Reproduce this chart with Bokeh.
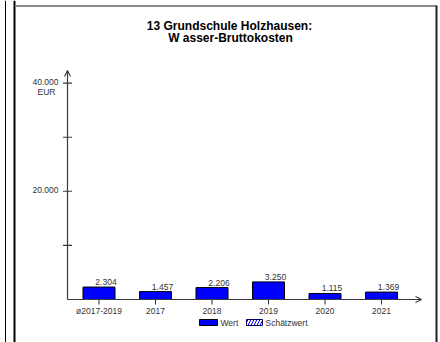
from bokeh.plotting import figure
from bokeh.models import Range1d, Arrow, OpenHead
from bokeh.core.properties import value
from bokeh.embed import file_html
from bokeh.resources import INLINE

# ---- data ----
categories = ["ø2017-2019", "2017", "2018", "2019", "2020", "2021"]
values = [2304, 1457, 2206, 3250, 1115, 1369]
y_ticks = [10000, 20000, 30000, 40000]
y_tick_labels = ["", "20.000", "", "40.000"]
title_lines = ["13 Grundschule Holzhausen:", "W asser-Bruttokosten"]
legend_labels = ["Wert", "Schätzwert"]

# ---- layout (page pixels) ----
W, H = 440, 342
CAT0_PX = 98.5        # centre of first category
PX_PER_CAT = 56.5
BASE_PX = 299.0       # y pixel of value 0
PX_PER_UNIT = 54.1 / 10000.0
AXIS_X_PX = 67.0
AXIS_TOP_PX = 70.0
XAXIS_END_PX = 421.0

def cx(px):  # page px -> category units
    return (px - CAT0_PX) / PX_PER_CAT

def vy(py):  # page px -> value units
    return (BASE_PX - py) / PX_PER_UNIT

FONT = value("Liberation Sans")
AX_COL = "#3a3a3a"

p = figure(width=W, height=H, x_range=Range1d(cx(0), cx(W)), y_range=Range1d(vy(H), vy(0)),
           min_border=0, x_axis_type=None, y_axis_type=None, outline_line_color=None,
           toolbar_location=None, output_backend="svg", background_fill_color="white",
           border_fill_color="white")
p.extra_x_ranges = {"px": Range1d(0, W)}
p.extra_y_ranges = {"px": Range1d(H, 0)}

# ---- outer frame lines ----
p.line([5, 5], [0, H], x_range_name="px", y_range_name="px", line_color="black", line_width=1)
p.line([14, 14], [0, H], x_range_name="px", y_range_name="px", line_color="black", line_width=2)
p.line([15, 436], [5.5, 5.5], x_range_name="px", y_range_name="px", line_color="#8a8a8a", line_width=2)
p.line([436, 436], [5, H], x_range_name="px", y_range_name="px", line_color="#222222", line_width=2)

# ---- bars ----
xs = list(range(len(categories)))
p.vbar(x=xs, top=values, bottom=0, width=32 / PX_PER_CAT, fill_color="#0000FF",
       line_color="black", line_width=1)

# value labels
val_text = [f"{v:,}".replace(",", ".") for v in values]
p.text(x=xs, y=values, text=val_text, x_offset=7, y_offset=-2, text_align="center",
       text_baseline="bottom", text_font=FONT, text_font_size="8.5px", text_color="#333333")

# ---- axes ----
ax = cx(AXIS_X_PX)
p.add_layout(Arrow(end=OpenHead(size=6, line_width=1.1, line_color=AX_COL),
                   x_start=ax, y_start=0, x_end=ax, y_end=vy(AXIS_TOP_PX),
                   line_color=AX_COL, line_width=1.2))
p.add_layout(Arrow(end=OpenHead(size=6, line_width=1.1, line_color=AX_COL),
                   x_start=ax, y_start=0, x_end=cx(XAXIS_END_PX), y_end=0,
                   line_color=AX_COL, line_width=1.2))

# y ticks
p.scatter(x=[ax] * len(y_ticks), y=y_ticks, marker="dash", size=9, line_color=AX_COL,
          line_width=1.1)
p.text(x=[ax] * len(y_ticks), y=y_ticks, text=y_tick_labels, x_offset=-9, y_offset=-1,
       text_align="right", text_baseline="middle", text_font=FONT, text_font_size="8.5px",
       text_color="#333333")
p.text(x=[ax], y=[y_ticks[-1]], text=["EUR"], x_offset=-12, y_offset=9, text_align="right",
       text_baseline="middle", text_font=FONT, text_font_size="8.5px", text_color="#333333")

# x ticks
p.segment(x0=xs, y0=[0] * len(xs), x1=xs, y1=[-5 / PX_PER_UNIT] * len(xs),
          line_color=AX_COL, line_width=1.1)
p.text(x=xs, y=[0] * len(xs), text=categories, y_offset=11, text_align="center",
       text_baseline="middle", text_font=FONT, text_font_size="8.5px", text_color="#333333")

# ---- title ----
p.text(x=[229, 230], y=[25, 37], text=title_lines, x_range_name="px", y_range_name="px",
       text_align="center", text_baseline="middle", text_font=FONT, text_font_size="12px",
       text_font_style="bold", text_color="black")

# ---- legend ----
p.quad(left=[199], right=[217], top=[319], bottom=[325], x_range_name="px", y_range_name="px",
       fill_color="#0000FF", line_color="black", line_width=1)
p.quad(left=[246], right=[262], top=[319], bottom=[325], x_range_name="px", y_range_name="px",
       fill_color="white", line_color="#000066", line_width=1, hatch_pattern="/",
       hatch_color="#0000FF", hatch_scale=6, hatch_weight=1)
p.text(x=[220, 265], y=[322, 322], text=legend_labels, x_range_name="px", y_range_name="px",
       text_align="left", text_baseline="middle", text_font=FONT, text_font_size="8.5px",
       text_color="#333333")

open("out.html", "w").write(file_html(p, INLINE))
